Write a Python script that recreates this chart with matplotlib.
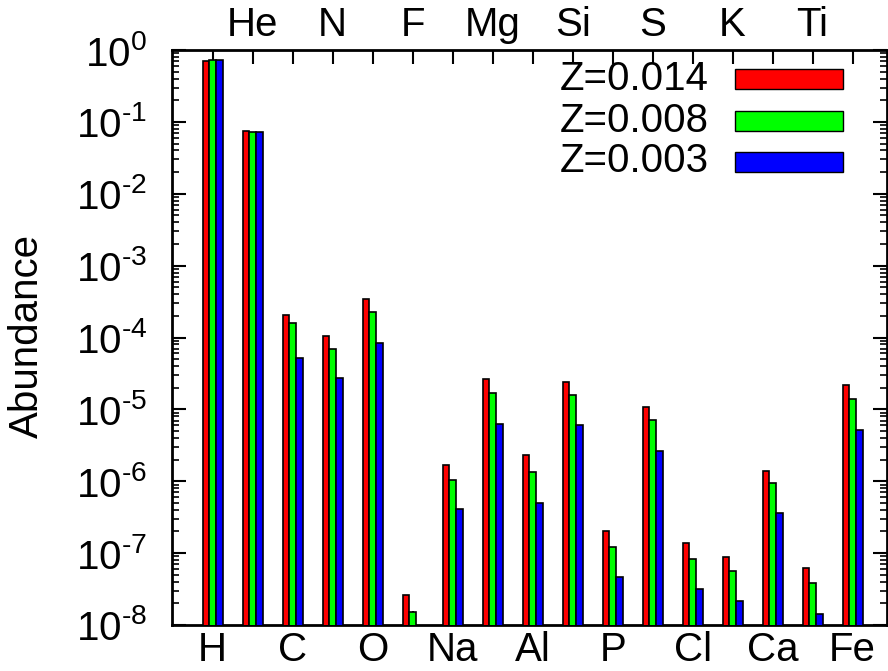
import numpy as np
import matplotlib
matplotlib.use("Agg")
import matplotlib.pyplot as plt
from matplotlib.ticker import LogLocator, NullFormatter
from matplotlib.patches import Rectangle

plt.rcParams['font.family'] = ['Liberation Sans', 'DejaVu Sans']
plt.rcParams['mathtext.fontset'] = 'custom'
plt.rcParams['mathtext.rm'] = 'Liberation Sans'
plt.rcParams['mathtext.it'] = 'Liberation Sans'

elements = ["H", "He", "C", "N", "O", "F", "Na", "Mg", "Al", "Si", "P", "S",
            "Cl", "K", "Ca", "Ti", "Fe"]
series_labels = ["Z=0.014", "Z=0.008", "Z=0.003"]
z014 = [0.71, 0.0746, 2.04e-4, 1.06e-4, 3.47e-4, 2.61e-8, 1.67e-6, 2.67e-5,
        2.29e-6, 2.40e-5, 2.01e-7, 1.09e-5, 1.38e-7, 8.83e-8, 1.39e-6,
        6.27e-8, 2.21e-5]
z008 = [0.726, 0.073, 1.59e-4, 6.84e-5, 2.26e-4, 1.52e-8, 1.03e-6, 1.67e-5,
        1.33e-6, 1.59e-5, 1.23e-7, 7.11e-6, 8.37e-8, 5.70e-8, 9.55e-7,
        3.84e-8, 1.38e-5]
z003 = [0.735, 0.0716, 5.24e-5, 2.76e-5, 8.38e-5, 9.0e-9, 4.16e-7, 6.26e-6,
        5.04e-7, 6.00e-6, 4.65e-8, 2.66e-6, 3.13e-8, 2.13e-8, 3.57e-7,
        1.42e-8, 5.16e-6]
colors = ["#ff0000", "#00ff00", "#0000ff"]
ytick_exps = list(range(-8, 1))

W, H = 888, 671
fig = plt.figure(figsize=(W / 100, H / 100), dpi=100)
ax = fig.add_axes([172 / W, 1 - 625 / H, (887 - 172) / W, (625 - 50) / H])
ax.set_yscale('log', nonpositive='clip')

x = np.arange(len(elements))
bw = 0.167
for i, (vals, c) in enumerate(zip([z014, z008, z003], colors)):
    ax.bar(x + (i - 1) * bw, vals, width=bw, color=c,
           edgecolor='black', linewidth=1.2, zorder=3)

ax.set_ylim(1e-8, 1)
ax.set_xlim(-1.017, 16.86)

fs = 29
ax.yaxis.set_minor_locator(LogLocator(base=10, subs=np.arange(2, 10), numticks=100))
ax.yaxis.set_minor_formatter(NullFormatter())
ax.set_yticks([10.0 ** k for k in ytick_exps])


def sup_label(k):
    s = ('\u2010' + str(abs(k))) if k < 0 else str(k)
    return '$10^{' + s + '}$'


ax.set_yticklabels([sup_label(k) for k in ytick_exps])

ax.set_xticks(x)
ax.set_xticklabels([e if i % 2 == 0 else '' for i, e in enumerate(elements)])
ax.tick_params(axis='both', which='major', direction='in', length=10, width=1.5,
               labelsize=fs, top=True, right=True)
ax.tick_params(axis='y', which='major', pad=18)
ax.tick_params(axis='y', which='minor', direction='in', length=5, width=1.2,
               right=True, left=True)
ax.tick_params(axis='x', which='major', pad=4)

sec = ax.secondary_xaxis('top')
sec.set_xticks(x[1::2])
sec.set_xticklabels(elements[1::2])
sec.tick_params(length=0, labelsize=fs, pad=4)
for s in sec.spines.values():
    s.set_visible(False)

for s in ax.spines.values():
    s.set_linewidth(2)

fig.text(27 / W, 1 - 336 / H, "Abundance", rotation=90, fontsize=fs,
         ha='center', va='center')

# legend
rows_y = [79, 120.5, 161.5]
for lab, c, yy in zip(series_labels, colors, rows_y):
    fig.text(709 / W, 1 - yy / H, lab, fontsize=fs, ha='right', va='center')
    fig.patches.append(Rectangle((735 / W, 1 - (yy + 10) / H), 108 / W, 20 / H,
                                 transform=fig.transFigure, facecolor=c,
                                 edgecolor='black', linewidth=1.0, figure=fig))

fig.savefig("out.png", dpi=100)
